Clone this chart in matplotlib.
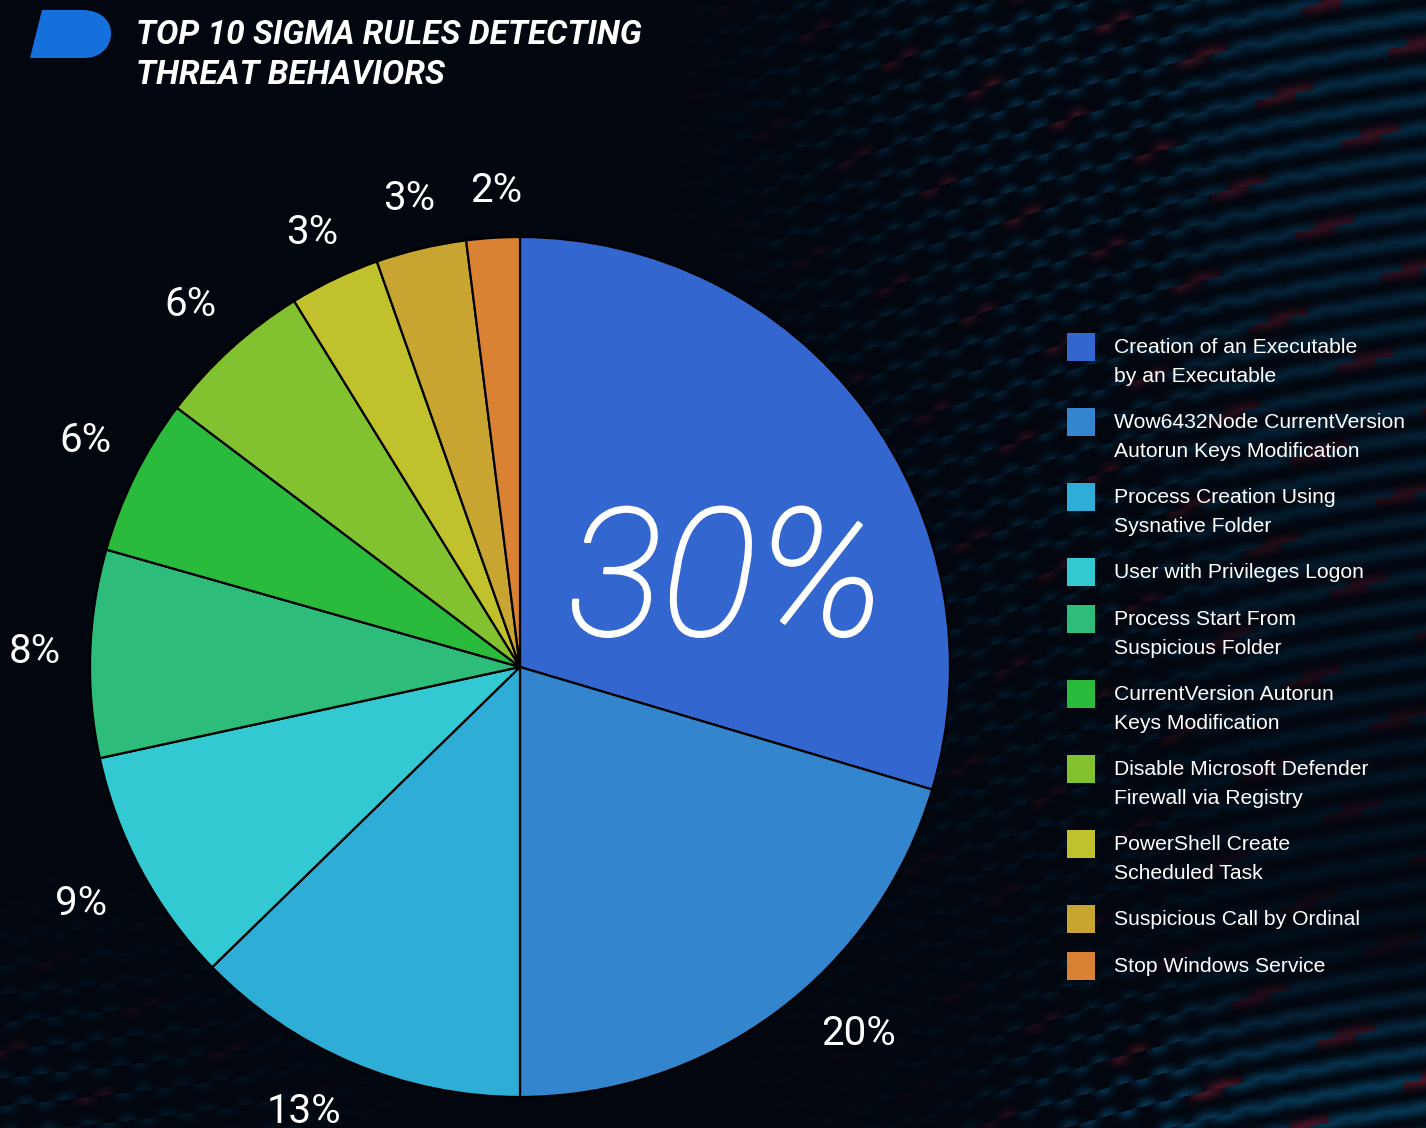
import numpy as np
import matplotlib
matplotlib.use("Agg")
import matplotlib.pyplot as plt
import matplotlib.patheffects as pe
from matplotlib.path import Path
from matplotlib.patches import PathPatch, Rectangle

# ---------------- data ----------------
rules = [
    "Creation of an Executable\nby an Executable",
    "Wow6432Node CurrentVersion\nAutorun Keys Modification",
    "Process Creation Using\nSysnative Folder",
    "User with Privileges Logon",
    "Process Start From\nSuspicious Folder",
    "CurrentVersion Autorun\nKeys Modification",
    "Disable Microsoft Defender\nFirewall via Registry",
    "PowerShell Create\nScheduled Task",
    "Suspicious Call by Ordinal",
    "Stop Windows Service",
]
shares = [29.6, 20.4, 12.7, 8.9, 7.8, 5.9, 5.9, 3.4, 3.4, 2.0]
pct_labels = ["30%", "20%", "13%", "9%", "8%", "6%", "6%", "3%", "3%", "2%"]
colors = ["#3366CF", "#3385CE", "#2EADD6", "#33C9D2", "#2DBC7A",
          "#2BBB3C", "#82C12F", "#C1C12E", "#C8A531", "#DA8233"]
title_lines = ["TOP 10 SIGMA RULES DETECTING", "THREAT BEHAVIORS"]

W, H = 1426, 1128
fig = plt.figure(figsize=(W / 100, H / 100), dpi=100)

# ---------------- background (decorative) ----------------
bg = fig.add_axes([0, 0, 1, 1])
yy, xx = np.mgrid[0:H, 0:W].astype(float)
img = np.zeros((H, W, 3))
img[..., 0] = 2 / 255
img[..., 1] = 6 / 255
img[..., 2] = 14 / 255
v = (yy + 0.22 * (xx - 700) - 30 * np.sin(xx / 260.0)) / 28.0
u = (xx - 0.15 * yy) / 40.0 + 0.5 * np.floor(v)
fu = u - np.round(u)
fv = v - np.round(v)
sx = 0.17 + 0.7 * np.clip((xx - 1150) / 250.0, 0, 1)
dots = np.exp(-(fu ** 2) / (2 * sx ** 2) - (fv ** 2) / (2 * 0.2 ** 2))
env = np.clip((xx - 650) / 350.0, 0, 1) * np.clip(1.0 - yy / 1300.0, 0.25, 1)
env_bl = np.clip((yy - 850) / 250.0, 0, 1) * np.clip((450 - xx) / 400.0, 0, 1)
env_br = np.clip((yy - 950) / 150.0, 0, 1) * np.clip((xx - 950) / 200.0, 0, 1)
envelope = np.clip(env * 0.8 + env_bl * 0.5 + env_br * 0.9, 0, 1)
red_sel = ((np.round(u) * 7 + np.round(v) * 3) % 9 == 0).astype(float)
img[..., 0] += dots * envelope * (0.02 + 0.26 * red_sel)
img[..., 1] += dots * envelope * (0.19 * (1 - red_sel) + 0.06 * red_sel)
img[..., 2] += dots * envelope * (0.27 * (1 - red_sel) + 0.10 * red_sel)
img = np.clip(img, 0, 1)
bg.imshow(img, extent=[0, W, H, 0], aspect="auto", interpolation="bilinear")
bg.set_xlim(0, W)
bg.set_ylim(H, 0)
bg.axis("off")

# ---------------- main axes (pixel coords, y up) ----------------
ax = fig.add_axes([0, 0, 1, 1])
ax.patch.set_alpha(0)
cx, cy, R = 520, H - 667, 430
wedges, _ = ax.pie(shares, colors=colors, startangle=90, counterclock=False,
                   radius=R, center=(cx, cy), frame=True,
                   wedgeprops=dict(edgecolor="black", linewidth=1.6))
ax.set_xlim(0, W)
ax.set_ylim(0, H)
ax.set_aspect("equal")
ax.axis("off")

label_r = [0.485, 1.16, 1.15, 1.16, 1.13, 1.14, 1.14, 1.12, 1.12, 1.11]
label_dt = [-27.9, 6.0, -3.0, 0, 0, -1, 0, 0, 0, -0.7]
for i, (w, lab) in enumerate(zip(wedges, pct_labels)):
    th = np.deg2rad((w.theta1 + w.theta2) / 2 + label_dt[i])
    x = cx + R * label_r[i] * np.cos(th)
    y = cy + R * label_r[i] * np.sin(th)
    if i == 0:
        ax.text(x, y, lab, color="white", fontsize=128, family="Roboto",
                fontweight="light", style="italic", ha="center", va="baseline",
                path_effects=[pe.withStroke(linewidth=1.8, foreground="white")])
    else:
        ax.text(x, y, lab, color="white", fontsize=29, family="Roboto",
                ha="center", va="center")

# ---------------- legend ----------------
ly = 347
for name, col in zip(rules, colors):
    lines = name.split("\n")
    ax.add_patch(Rectangle((1067, H - ly - 14), 28, 28, facecolor=col,
                           edgecolor="none"))
    for k, line in enumerate(lines):
        ax.text(1114, H - (ly + 6 + 29 * k), line, color="white",
                fontsize=15.2, family=["Liberation Sans", "DejaVu Sans"],
                ha="left", va="baseline")
    ly += 47 + 28 * (len(lines) - 1)

# ---------------- logo & title ----------------
pts = [(42, 10), (82, 10), (104, 10), (112, 24), (111, 35),
       (110, 48), (100, 58), (84, 58), (30, 58), (42, 10)]
codes = [Path.MOVETO, Path.LINETO, Path.CURVE4, Path.CURVE4, Path.CURVE4,
         Path.CURVE4, Path.CURVE4, Path.CURVE4, Path.LINETO, Path.CLOSEPOLY]
logo = Path([(px, H - py) for px, py in pts], codes)
ax.add_patch(PathPatch(logo, facecolor="#1670DB", edgecolor="none"))

for k, line in enumerate(title_lines):
    ax.text(136, H - (44 + 40 * k), line, color="white", fontsize=24,
            family="Roboto", fontweight="bold", style="italic",
            ha="left", va="baseline")

fig.savefig("out.png", dpi=100, facecolor="black")
